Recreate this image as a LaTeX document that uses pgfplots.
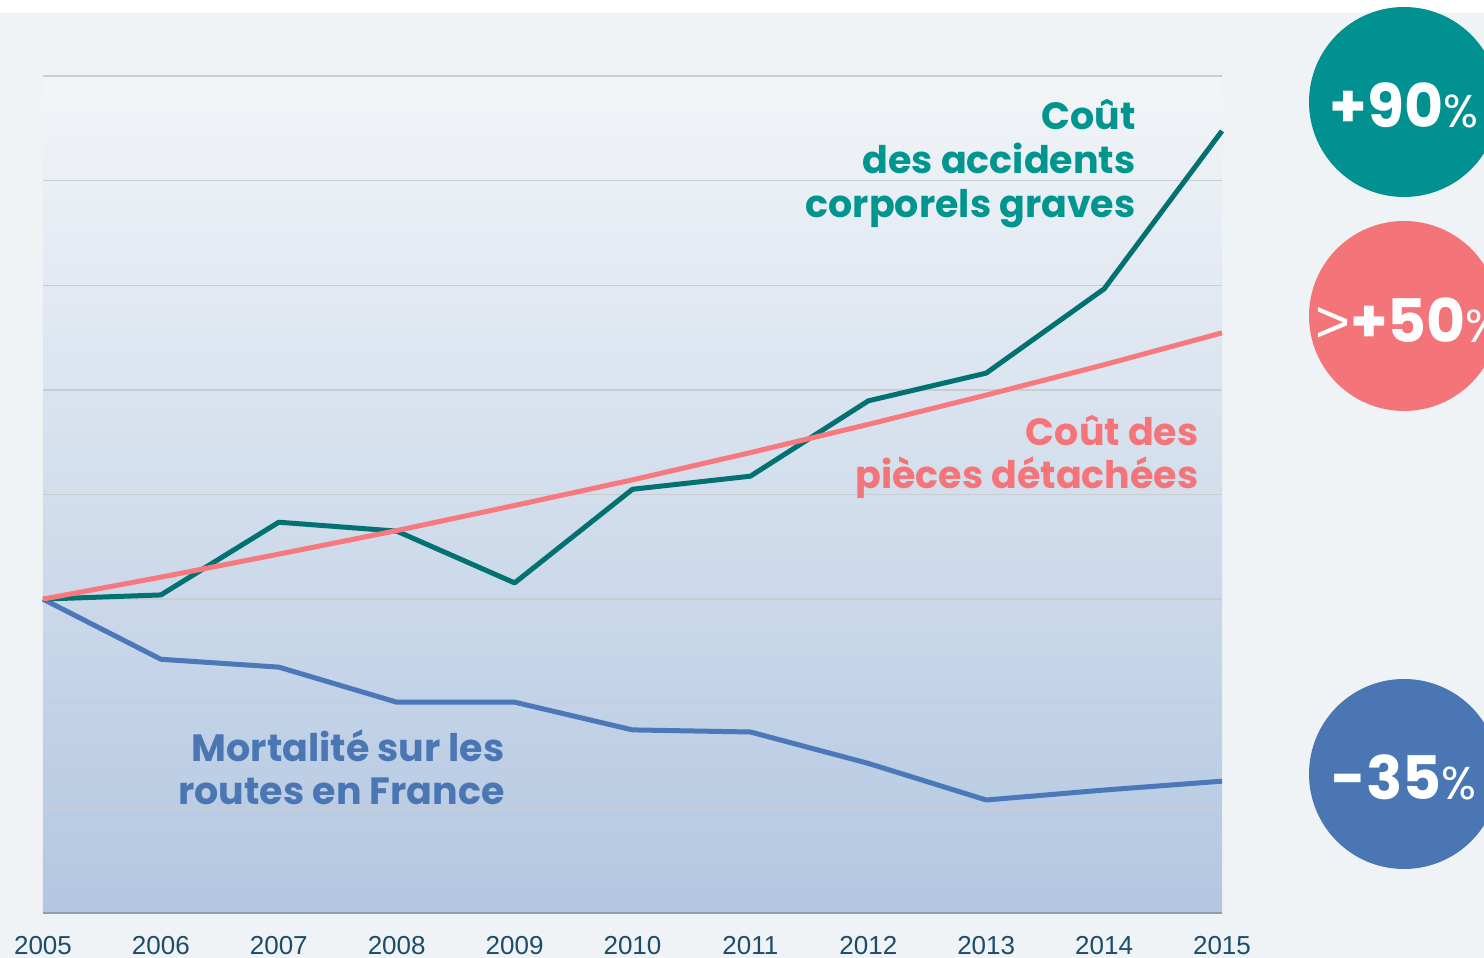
\documentclass[border=0pt]{standalone}
\usepackage{fontspec}
\setmainfont{Liberation Sans}
\newfontfamily\pop{Poppins}
\usepackage{pgfplots}
\pgfplotsset{compat=1.18}
\definecolor{bg}{HTML}{EFF3F6}
\definecolor{topc}{HTML}{F2F5F8}
\definecolor{botc}{HTML}{B3C7E1}
\definecolor{gridc}{HTML}{C9CDD2}
\definecolor{axisc}{HTML}{8E9DB0}
\definecolor{tickc}{HTML}{1B4D68}
\definecolor{tealline}{HTML}{027171}
\definecolor{tealtxt}{HTML}{00958F}
\definecolor{tealcirc}{HTML}{019190}
\definecolor{pinkc}{HTML}{F47579}
\definecolor{pinkline}{HTML}{F7797D}
\definecolor{bluec}{HTML}{4A77B4}
\definecolor{blueline}{HTML}{4B78B9}
\begin{document}
\begin{tikzpicture}[x=0.5pt,y=0.5pt]
\clip (0,0) rectangle (1484,958);
\fill[bg] (0,0) rectangle (1484,958);
\fill[white] (0,945) rectangle (1484,958);
\begin{axis}[at={(21.5pt,22.5pt)}, anchor=south west,
  scale only axis, width=589.5pt, height=418.5pt,
  xmin=2005, xmax=2015, ymin=40, ymax=200,
  xtick={2005,2006,2007,2008,2009,2010,2011,2012,2013,2014,2015},
  xticklabels={2005,2006,2007,2008,2009,2010,2011,2012,2013,2014,2015},
  ytick={40,60,80,100,120,140,160,180,200}, yticklabels={},
  ymajorgrids, major grid style={draw=gridc, line width=0.7pt},
  axis line style={draw=none}, major tick length=0pt,
  axis background/.style={top color=topc, bottom color=botc},
  xticklabel style={font=\fontsize{13}{13}\selectfont, text=tickc, yshift=-8pt},
  clip=false]
\draw[axisc, line width=1pt] (rel axis cs:0,0) -- (rel axis cs:1,0);
\addplot[blueline, line width=2.5pt, line join=round] coordinates {
(2005,100) (2006,88.5) (2007,87) (2008,80.3) (2009,80.3) (2010,75) (2011,74.6) (2012,68.6) (2013,61.6) (2014,63.5) (2015,65.2)};
\addplot[tealline, line width=2.5pt, line join=round] coordinates {
(2005,100) (2006,100.8) (2007,114.7) (2008,113) (2009,103.1) (2010,121) (2011,123.5) (2012,137.9) (2013,143.2) (2014,159.3) (2015,189.5)};
\addplot[pinkline, line width=2.5pt, line join=round] coordinates {
(2005,100) (2006,104.2) (2007,108.6) (2008,113.1) (2009,117.9) (2010,122.8) (2011,128.0) (2012,133.4) (2013,139.0) (2014,144.8) (2015,150.9)};
\end{axis}
% series labels
\begin{scope}[every node/.style={inner sep=0pt, anchor=base east, font=\pop\bfseries\fontsize{19}{19}\selectfont}]
\node[text=tealtxt] at (1136,828) {Coût};
\node[text=tealtxt] at (1136,784) {des accidents};
\node[text=tealtxt] at (1136,740) {corporels graves};
\node[text=pinkc] at (1199,512) {Coût des};
\node[text=pinkc] at (1199,469) {pièces détachées};
\node[text=bluec] at (505,196) {Mortalité sur les};
\node[text=bluec] at (505,153) {routes en France};
\end{scope}
% circles
\fill[tealcirc] (1404,856) circle[radius=47.5pt];
\fill[pinkc] (1404,642) circle[radius=47.5pt];
\fill[bluec] (1404,184) circle[radius=47.5pt];
\begin{scope}[every node/.style={inner sep=0pt, anchor=base, text=white}]
\node at (1404,830) {\pop\bfseries\fontsize{30}{30}\selectfont +90{\mdseries\fontsize{23}{23}\selectfont\%}};
\node at (1408,615) {{\rmfamily\fontsize{30}{30}\selectfont >}\pop\bfseries\fontsize{30}{30}\selectfont +50{\mdseries\fontsize{23}{23}\selectfont\%}};
\node at (1404,158) {\pop\bfseries\fontsize{30}{30}\selectfont -35{\mdseries\fontsize{23}{23}\selectfont\%}};
\end{scope}
\end{tikzpicture}
\end{document}
